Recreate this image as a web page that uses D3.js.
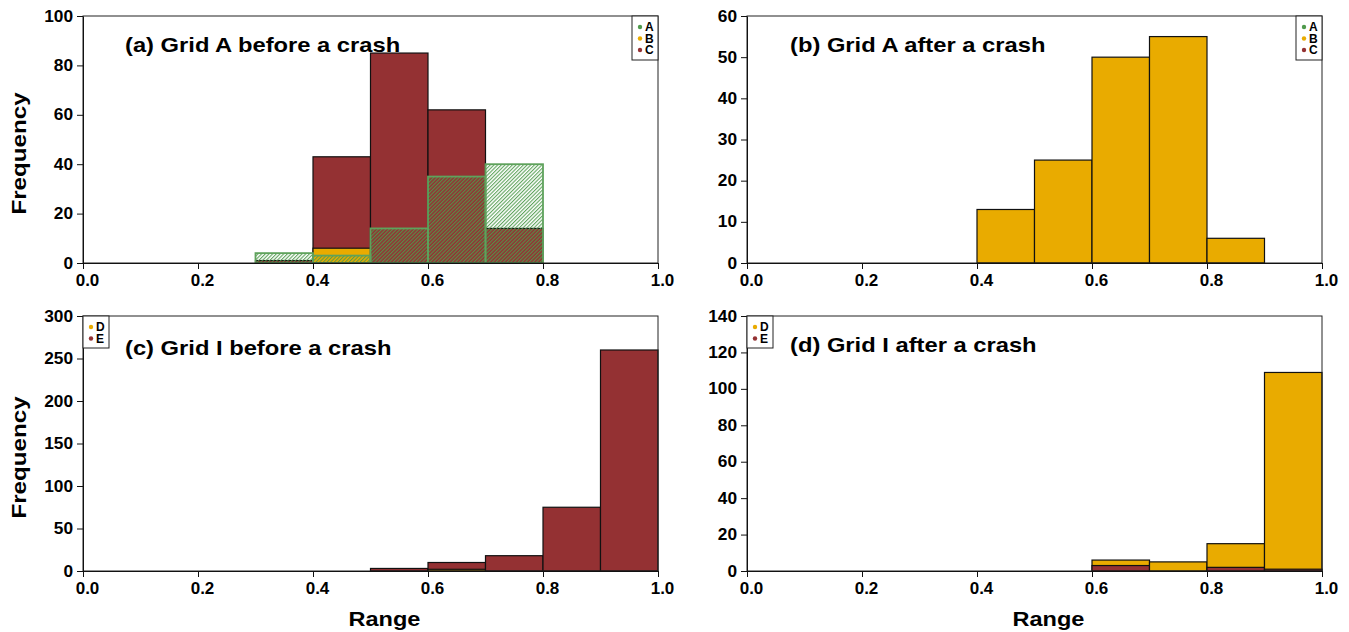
<!DOCTYPE html>
<html>
<head>
<meta charset="utf-8">
<script src="https://cdn.jsdelivr.net/npm/d3@7/dist/d3.min.js"></script>
<style>
  body { margin: 0; background: #fff; }
  text { font-family: Arial, "Liberation Sans", sans-serif; font-weight: bold; }
</style>
</head>
<body>
<script>
var w = 1349,
    h = 632;

// bin starts (width 0.1)
var bins = [0, 0.1, 0.2, 0.3, 0.4, 0.5, 0.6, 0.7, 0.8, 0.9];
var xTicks = [0, 0.2, 0.4, 0.6, 0.8, 1.0];

// (a) Grid A before a crash
var beforeA_A = [0, 0, 0, 4, 3, 14, 35, 40, 0, 0];
var beforeA_B = [0, 0, 0, 0, 6, 0, 0, 0, 0, 0];
var beforeA_C = [0, 0, 0, 1, 43, 85, 62, 14, 0, 0];
// (b) Grid A after a crash
var afterA_B = [0, 0, 0, 0, 13, 25, 50, 55, 6, 0];
// (c) Grid I before a crash
var beforeI_D = [0, 0, 0, 0, 0, 0, 2, 0, 0, 0];
var beforeI_E = [0, 0, 0, 0, 0, 3, 10, 18, 75, 260];
// (d) Grid I after a crash
var afterI_D = [0, 0, 0, 0, 0, 0, 6, 5, 15, 109];
var afterI_E = [0, 0, 0, 0, 0, 0, 3, 0, 2, 1];

var green = "#4f9a4c",
    orange = "#e9ab00",
    red = "#943133";

var panels = [
  { title: "(a) Grid A before a crash", x0: 83, x1: 658, y0: 16, y1: 263, yMax: 100, yStep: 20,
    series: [ { name: "A", values: beforeA_A, hatch: true },
              { name: "B", values: beforeA_B, color: orange },
              { name: "C", values: beforeA_C, color: red } ],
    legend: ["A", "B", "C"], legendRight: true, titleX: 125, titleY: 52 },
  { title: "(b) Grid A after a crash", x0: 747, x1: 1322, y0: 16, y1: 263, yMax: 60, yStep: 10,
    series: [ { name: "B", values: afterA_B, color: orange } ],
    legend: ["A", "B", "C"], legendRight: true, titleX: 790, titleY: 52 },
  { title: "(c) Grid I before a crash", x0: 83, x1: 658, y0: 316, y1: 571, yMax: 300, yStep: 50,
    series: [ { name: "D", values: beforeI_D, color: orange },
              { name: "E", values: beforeI_E, color: red } ],
    legend: ["D", "E"], legendRight: false, titleX: 125, titleY: 355, xLabel: true },
  { title: "(d) Grid I after a crash", x0: 747, x1: 1322, y0: 316, y1: 571, yMax: 140, yStep: 20,
    series: [ { name: "D", values: afterI_D, color: orange },
              { name: "E", values: afterI_E, color: red } ],
    legend: ["D", "E"], legendRight: false, titleX: 790, titleY: 352, xLabel: true }
];

var legendColor = { A: green, B: orange, C: red, D: orange, E: red };

// the original text is a bit wider than Arial, stretch it
function stretch(sel, f) {
    sel.each(function() {
        var len = this.getComputedTextLength();
        d3.select(this)
            .attr("textLength", len * f)
            .attr("lengthAdjust", "spacingAndGlyphs");
    });
}

var svg = d3.select("body")
            .append("svg")
            .attr("width", w)
            .attr("height", h);

// hatch pattern for series A
svg.append("defs")
    .append("pattern")
    .attr("id", "hatch")
    .attr("patternUnits", "userSpaceOnUse")
    .attr("width", 2.6)
    .attr("height", 2.6)
    .attr("patternTransform", "rotate(45)")
    .append("rect")
    .attr("x", 0)
    .attr("y", 0)
    .attr("width", 1.1)
    .attr("height", 2.6)
    .attr("fill", green)
    .attr("opacity", 0.9);

panels.forEach(function(p) {
    var g = svg.append("g");

    var x = d3.scaleLinear().domain([0, 1]).range([p.x0, p.x1]);
    var y = d3.scaleLinear().domain([0, p.yMax]).range([p.y1, p.y0]);

    // solid bars: per bin, tallest first; hatched series on top
    var rects = [];
    bins.forEach(function(b, i) {
        var solid = p.series.filter(function(s) { return !s.hatch; })
            .map(function(s) { return { bin: b, v: s.values[i], s: s }; })
            .sort(function(a, c) { return c.v - a.v; });
        rects = rects.concat(solid);
    });
    p.series.filter(function(s) { return s.hatch; }).forEach(function(s) {
        bins.forEach(function(b, i) {
            rects.push({ bin: b, v: s.values[i], s: s });
        });
    });

    g.selectAll("rect.bar")
        .data(rects.filter(function(d) { return d.v > 0; }))
        .enter()
        .append("rect")
        .attr("class", "bar")
        .attr("x", function(d) { return x(d.bin); })
        .attr("width", function(d) { return x(d.bin + 0.1) - x(d.bin); })
        .attr("y", function(d) { return y(d.v); })
        .attr("height", function(d) { return y(0) - y(d.v); })
        .attr("fill", function(d) { return d.s.hatch ? "url(#hatch)" : d.s.color; })
        .attr("stroke", function(d) { return d.s.hatch ? "#5fa25c" : "#111"; })
        .attr("stroke-width", function(d) { return d.s.hatch ? 1.8 : 1.2; });

    // frame
    g.append("rect")
        .attr("x", p.x0)
        .attr("y", p.y0)
        .attr("width", p.x1 - p.x0)
        .attr("height", p.y1 - p.y0)
        .attr("fill", "none")
        .attr("stroke", "#222")
        .attr("stroke-width", 1);

    var xAxis = g.append("g")
        .attr("transform", "translate(0," + p.y1 + ")")
        .call(d3.axisBottom(x).tickValues(xTicks).tickFormat(d3.format(".1f")).tickSize(6).tickSizeOuter(0));
    xAxis.selectAll("text")
        .attr("font-size", "17px")
        .attr("fill", "#000")
        .attr("dx", 4)
        .attr("dy", "0.82em");

    var yAxis = g.append("g")
        .attr("transform", "translate(" + p.x0 + ",0)")
        .call(d3.axisLeft(y).tickValues(d3.range(0, p.yMax + 1, p.yStep)).tickSize(6).tickSizeOuter(0));
    yAxis.selectAll("text")
        .attr("font-size", "16px")
        .attr("fill", "#000")
        .attr("x", -10);
    stretch(yAxis.selectAll("text"), 1.08);

    svg.selectAll(".domain").attr("stroke", "#111");
    svg.selectAll(".tick line").attr("stroke", "#111");

    // title
    g.append("text")
        .attr("x", p.titleX)
        .attr("y", p.titleY)
        .attr("font-size", "21px")
        .text(p.title)
        .call(stretch, 1.13);

    // legend
    var lw = 26,
        lh = p.legend.length === 3 ? 44 : 32,
        lx = p.legendRight ? p.x1 - lw : p.x0,
        ly = p.y0;
    var lg = g.append("g").attr("transform", "translate(" + lx + "," + ly + ")");
    lg.append("rect")
        .attr("width", lw)
        .attr("height", lh)
        .attr("fill", "#fff")
        .attr("stroke", "#222");
    lg.selectAll("circle")
        .data(p.legend)
        .enter()
        .append("circle")
        .attr("cx", 8)
        .attr("cy", function(d, i) { return 11 + i * 11.5; })
        .attr("r", 2.2)
        .attr("fill", function(d) { return legendColor[d]; });
    lg.selectAll("text")
        .data(p.legend)
        .enter()
        .append("text")
        .attr("x", 13)
        .attr("y", function(d, i) { return 15 + i * 11.5; })
        .attr("font-size", "12px")
        .text(function(d) { return d; });

    if (p.xLabel) {
        g.append("text")
            .attr("x", (p.x0 + p.x1) / 2 + 14)
            .attr("y", 626)
            .attr("text-anchor", "middle")
            .attr("font-size", "21px")
            .text("Range")
            .call(stretch, 1.12);
    }
    if (p.x0 < 400) {
        g.append("text")
            .attr("transform", "translate(26," + ((p.y0 + p.y1) / 2 + 14) + ") rotate(-90)")
            .attr("text-anchor", "middle")
            .attr("font-size", "21px")
            .text("Frequency")
            .call(stretch, 1.15);
    }
});
</script>
</body>
</html>
